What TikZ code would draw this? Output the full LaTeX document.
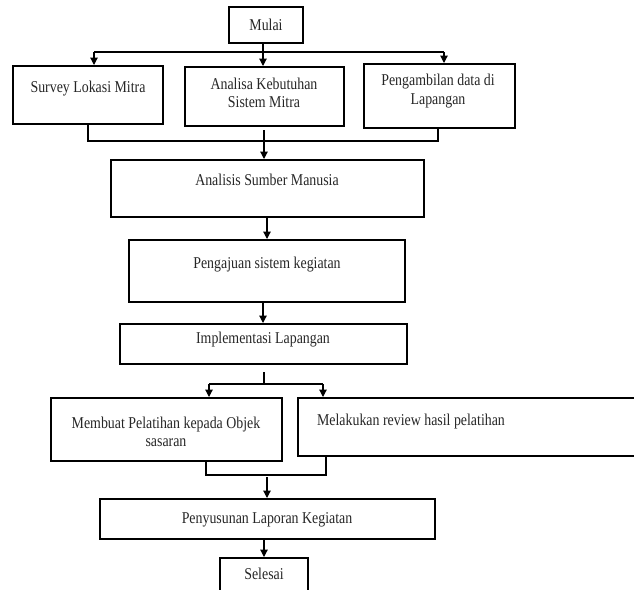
\documentclass[tikz,border=0pt]{standalone}
\usepackage{fontspec}
\setmainfont{Liberation Serif}[FakeStretch=0.84]
\usetikzlibrary{arrows.meta,fit}
\begin{document}
\begin{tikzpicture}[x=0.75pt,y=-0.75pt,
  box/.style={draw=black,line width=1.5pt,inner sep=0pt,fill=none},
  txt/.style={font=\fontsize{12.4pt}{14pt}\selectfont,align=center,inner sep=0pt,text=black!85},
  conn/.style={draw=black,line width=0.85pt},
  arr/.style={conn,-{Triangle[length=5.5pt,width=5.5pt]}}]
\useasboundingbox (0,0) rectangle (634,589);
\clip (0,0) rectangle (634,589);
% boxes
\node[box,fit={(229,7) (303,43)}] (mulai) {};
\node[box,fit={(13,66) (163,124)}] (survey) {};
\node[box,fit={(185,67) (344,126)}] (analisa) {};
\node[box,fit={(364,64) (515,128)}] (ambil) {};
\node[box,fit={(111,160) (424,217)}] (asm) {};
\node[box,fit={(129,240) (405,302)}] (ajuan) {};
\node[box,fit={(120,324) (407,364)}] (impl) {};
\node[box,fit={(51,398) (282,461)}] (latih) {};
\node[box,fit={(298,398) (650,456)}] (review) {};
\node[box,fit={(100,499) (435,539)}] (susun) {};
\node[box,fit={(220,558) (308,610)}] (selesai) {};
% texts
\node[txt] (tmulai) at (266,25) {Mulai};
\node[txt] (tsurvey) at (88,89) {Survey Lokasi Mitra};
\node[txt] (tanalisa) at (264,93) {Analisa Kebutuhan\\Sistem Mitra};
\node[txt] (tambil) at (438,91) {Pengambilan data di\\Lapangan};
\node[txt] (tasm) at (267,180) {Analisis Sumber Manusia};
\node[txt] (tajuan) at (267,265) {Pengajuan sistem kegiatan};
\node[txt] (timpl) at (263,340) {Implementasi Lapangan};
\node[txt] (tlatih) at (166,432) {Membuat Pelatihan kepada Objek\\sasaran};
\node[txt] (treview) at (411,422) {Melakukan review hasil pelatihan};
\node[txt] (tsusun) at (267,520) {Penyusunan Laporan Kegiatan};
\node[txt] (tselesai) at (264,574) {Selesai};
% branch 1
\coordinate (b1) at (263,52);
\coordinate (b1l) at (94,52);
\coordinate (b1r) at (444,52);
\draw[conn] (mulai.south -| b1) -- (b1);
\draw[conn] (b1l) -- (b1r);
\draw[arr] (b1) -- (b1 |- analisa.north);
\draw[arr] (b1l) -- (b1l |- survey.north);
\draw[arr] (b1r) -- (b1r |- ambil.north);
% merge 1
\coordinate (m1l) at (88,141);
\coordinate (m1r) at (438,141);
\coordinate (m1c) at (264,130);
\draw[conn] (m1l |- survey.south) -- (m1l) -- (m1r) -- (m1r |- ambil.south);
\draw[arr] (m1c) -- (m1c |- asm.north);
% chain
\coordinate (c1) at (267,217);
\draw[arr] (c1 |- asm.south) -- (c1 |- ajuan.north);
\coordinate (c2) at (263,302);
\draw[arr] (c2 |- ajuan.south) -- (c2 |- impl.north);
% branch 2
\coordinate (b2t) at (264,372);
\coordinate (b2) at (264,384);
\coordinate (b2l) at (209,384);
\coordinate (b2r) at (323,384);
\draw[conn] (b2t) -- (b2);
\draw[conn] (b2l) -- (b2r);
\draw[arr] (b2l) -- (b2l |- latih.north);
\draw[arr] (b2r) -- (b2r |- review.north);
% merge 2
\coordinate (m2l) at (206,475);
\coordinate (m2r) at (326,475);
\coordinate (m2c) at (267,477);
\draw[conn] (m2l |- latih.south) -- (m2l) -- (m2r) -- (m2r |- review.south);
\draw[arr] (m2c) -- (m2c |- susun.north);
\coordinate (c3) at (264,539);
\draw[arr] (c3 |- susun.south) -- (c3 |- selesai.north);
\end{tikzpicture}
\end{document}
